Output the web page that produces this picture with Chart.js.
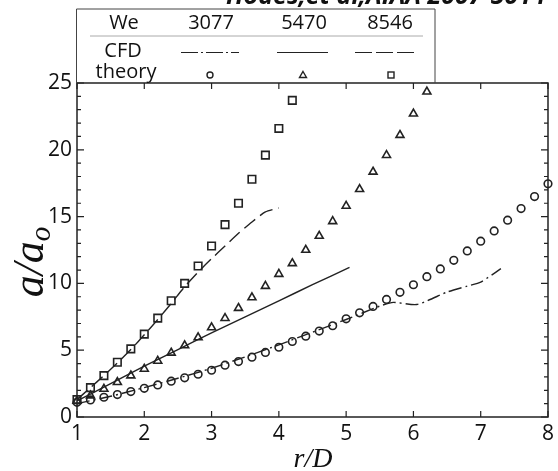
<!DOCTYPE html>
<html>
<head>
<meta charset="utf-8">
<style>
  html, body { margin: 0; padding: 0; background: #fff; }
  #wrap { width: 558px; height: 471px; position: relative; }
</style>
<script src="https://cdn.jsdelivr.net/npm/chart.js@4.4.1/dist/chart.umd.min.js"></script>
</head>
<body>
<div id="wrap"><canvas id="chart" width="558" height="471"></canvas></div>
<script>
// r/D positions of the theory markers
const rCircle = [1.0, 1.2, 1.4, 1.6, 1.8, 2.0, 2.2, 2.4, 2.6, 2.8, 3.0, 3.2, 3.4, 3.6, 3.8, 4.0, 4.2, 4.4,
  4.6, 4.8, 5.0, 5.2, 5.4, 5.6, 5.8, 6.0, 6.2, 6.4, 6.6, 6.8, 7.0, 7.2, 7.4, 7.6, 7.8, 8.0];
const rTriangle = [1.0, 1.2, 1.4, 1.6, 1.8, 2.0, 2.2, 2.4, 2.6, 2.8, 3.0, 3.2, 3.4, 3.6, 3.8, 4.0, 4.2, 4.4,
  4.6, 4.8, 5.0, 5.2, 5.4, 5.6, 5.8, 6.0, 6.2];
const rSquare = [1.0, 1.2, 1.4, 1.6, 1.8, 2.0, 2.2, 2.4, 2.6, 2.8, 3.0, 3.2, 3.4, 3.6, 3.8, 4.0, 4.2];

// theory a/ao
const theory3077 = [1.1, 1.28, 1.48, 1.68, 1.9, 2.15, 2.4, 2.68, 2.93, 3.2, 3.5, 3.88, 4.15, 4.48, 4.83, 5.22,
  5.65, 6.05, 6.43, 6.83, 7.35, 7.8, 8.28, 8.8, 9.33, 9.9, 10.5, 11.08, 11.73, 12.43, 13.16, 13.93, 14.73,
  15.6, 16.5, 17.45];
const theory5470 = [1.2, 1.6, 2.1, 2.6, 3.1, 3.6, 4.2, 4.8, 5.35, 5.95, 6.7, 7.4, 8.15, 8.95, 9.8, 10.7,
  11.5, 12.5, 13.55, 14.65, 15.8, 17.05, 18.35, 19.6, 21.1, 22.7, 24.35];
const theory8546 = [1.3, 2.2, 3.1, 4.1, 5.1, 6.2, 7.4, 8.7, 10.0, 11.3, 12.8, 14.4, 16.0, 17.8, 19.6, 21.6, 23.7];

// CFD curves
const cfdR3077 = [1.0, 1.5, 2.0, 2.5, 3.0, 3.5, 4.0, 4.5, 5.0, 5.5, 5.7, 6.05, 6.5, 6.8, 7.0, 7.3];
const cfd3077 = [1.0, 1.55, 2.2, 2.9, 3.65, 4.5, 5.4, 6.35, 7.3, 8.3, 8.58, 8.42, 9.35, 9.8, 10.1, 11.1];
const cfdR5470 = [1.0, 1.5, 2.0, 2.5, 3.0, 3.5, 4.0, 4.5, 5.05];
const cfd5470 = [1.2, 2.5, 3.8, 5.05, 6.3, 7.5, 8.7, 9.9, 11.2];
const cfdR8546 = [1.0, 1.2, 1.4, 1.6, 1.8, 2.0, 2.2, 2.4, 2.6, 2.8, 3.0, 3.2, 3.4, 3.6, 3.8, 4.0];
const cfd8546 = [1.3, 2.2, 3.1, 4.05, 5.05, 6.15, 7.3, 8.5, 9.75, 10.85, 11.85, 12.8, 13.75, 14.6, 15.35, 15.65];

const weLabels = ['3077', '5470', '8546'];
const xTicks = [1, 2, 3, 4, 5, 6, 7, 8];

const INK = '#222';
const sans = '"Open Sans", "Noto Sans", sans-serif';
const serif = '"Liberation Serif", "DejaVu Serif", serif';

const pts = (xs, ys) => xs.map((x, i) => ({ x: x, y: ys[i] }));

function lineSet(xs, ys, dash) {
  return {
    type: 'line', data: pts(xs, ys), borderColor: INK, borderWidth: 1.4,
    borderDash: dash, pointRadius: 0, fill: false, tension: 0.2, clip: 8
  };
}
function markerSet(xs, ys, style, r) {
  return {
    type: 'scatter', data: pts(xs, ys), pointStyle: style, pointRadius: r,
    borderColor: INK, backgroundColor: 'rgba(0,0,0,0)', pointBorderWidth: 1.6, clip: 10
  };
}

// inward ticks, frame, legend table and axis titles
const decor = {
  id: 'decor',
  afterDraw(chart) {
    const ctx = chart.ctx;
    const a = chart.chartArea;
    const xs = chart.scales.x, ys = chart.scales.y;
    ctx.save();
    ctx.strokeStyle = INK;
    ctx.lineWidth = 1.5;
    ctx.strokeRect(a.left, a.top, a.right - a.left, a.bottom - a.top);

    ctx.lineWidth = 1.2;
    ctx.beginPath();
    xTicks.forEach(v => {
      const px = xs.getPixelForValue(v);
      ctx.moveTo(px, a.bottom); ctx.lineTo(px, a.bottom - 6);
      ctx.moveTo(px, a.top); ctx.lineTo(px, a.top + 6);
    });
    for (let v = 0; v <= 25; v++) {
      const py = ys.getPixelForValue(v);
      const len = v % 5 === 0 ? 7 : 4;
      ctx.moveTo(a.left, py); ctx.lineTo(a.left + len, py);
      ctx.moveTo(a.right, py); ctx.lineTo(a.right - len, py);
    }
    ctx.stroke();

    // legend table
    const bx0 = 76.5, bx1 = 435, by0 = 9;
    ctx.lineWidth = 1;
    ctx.strokeStyle = '#444';
    ctx.beginPath();
    ctx.moveTo(bx0, a.top); ctx.lineTo(bx0, by0); ctx.lineTo(bx1, by0); ctx.lineTo(bx1, a.top);
    ctx.stroke();
    ctx.strokeStyle = '#aaa';
    ctx.beginPath(); ctx.moveTo(90, 36); ctx.lineTo(423, 36); ctx.stroke();

    ctx.fillStyle = '#111';
    ctx.font = '20px ' + sans;
    ctx.textAlign = 'center';
    ctx.textBaseline = 'middle';
    ctx.fillText('We', 124, 23);
    const cols = [211, 304, 390];
    weLabels.forEach((t, i) => ctx.fillText(t, cols[i], 23));
    ctx.fillText('CFD', 123, 51);
    ctx.fillText('theory', 126, 72);

    ctx.strokeStyle = INK;
    ctx.lineWidth = 1.2;
    const dashes = [[17, 3, 2, 3], [], [17, 4]];
    const seg = [[181, 239], [277, 328], [355, 414]];
    seg.forEach((s, i) => {
      ctx.setLineDash(dashes[i]);
      ctx.beginPath(); ctx.moveTo(s[0], 52.5); ctx.lineTo(s[1], 52.5); ctx.stroke();
    });
    ctx.setLineDash([]);
    ctx.lineWidth = 1.4;
    ctx.beginPath(); ctx.arc(210, 75, 3, 0, Math.PI * 2); ctx.stroke();
    ctx.beginPath(); ctx.moveTo(303, 71.5); ctx.lineTo(306.5, 77.5); ctx.lineTo(299.5, 77.5); ctx.closePath(); ctx.stroke();
    ctx.strokeRect(388, 72, 6, 6);

    // axis titles
    ctx.fillStyle = '#111';
    ctx.textAlign = 'left';
    ctx.textBaseline = 'alphabetic';
    ctx.save();
    ctx.translate(43, 262);
    ctx.rotate(-Math.PI / 2);
    ctx.font = 'italic 44px ' + serif;
    const main = 'a/a';
    const wMain = ctx.measureText(main).width;
    ctx.font = 'italic 29px ' + serif;
    const wSub = ctx.measureText('o').width;
    const x0 = -(wMain + wSub) / 2;
    ctx.font = 'italic 44px ' + serif;
    ctx.fillText(main, x0, 0);
    ctx.font = 'italic 29px ' + serif;
    ctx.fillText('o', x0 + wMain, 7);
    ctx.restore();

    ctx.font = 'italic 28px ' + serif;
    ctx.textAlign = 'center';
    ctx.fillText('r/D', 313, 467);

    // clipped header text above the figure
    ctx.font = 'bold italic 25px ' + sans;
    ctx.textAlign = 'left';
    ctx.fillText('Hodes,et al,AIAA 2007-5014', 226, 4);
    ctx.restore();
  }
};

new Chart(document.getElementById('chart').getContext('2d'), {
  data: {
    datasets: [
      lineSet(cfdR3077, cfd3077, [13, 4, 2, 4]),
      lineSet(cfdR5470, cfd5470, []),
      lineSet(cfdR8546, cfd8546, [14, 6]),
      markerSet(rCircle, theory3077, 'circle', 3.8),
      markerSet(rTriangle, theory5470, 'triangle', 4.6),
      markerSet(rSquare, theory8546, 'rect', 5.3)
    ]
  },
  options: {
    responsive: false,
    animation: false,
    events: [],
    layout: { padding: { top: 83, right: 6, left: 0, bottom: 0 } },
    plugins: { legend: { display: false }, tooltip: { enabled: false } },
    scales: {
      x: {
        type: 'linear', min: 1, max: 8,
        grid: { display: false, drawTicks: false },
        border: { display: false },
        ticks: { stepSize: 1, color: '#111', font: { family: sans, size: 21 }, padding: 4 },
        afterFit: s => { s.height = 54; }
      },
      y: {
        min: 0, max: 25,
        grid: { display: false, drawTicks: false },
        border: { display: false },
        ticks: { stepSize: 5, color: '#111', font: { family: sans, size: 21 }, padding: 5 },
        afterFit: s => { s.width = 77; }
      }
    }
  },
  plugins: [decor]
});
</script>
</body>
</html>
